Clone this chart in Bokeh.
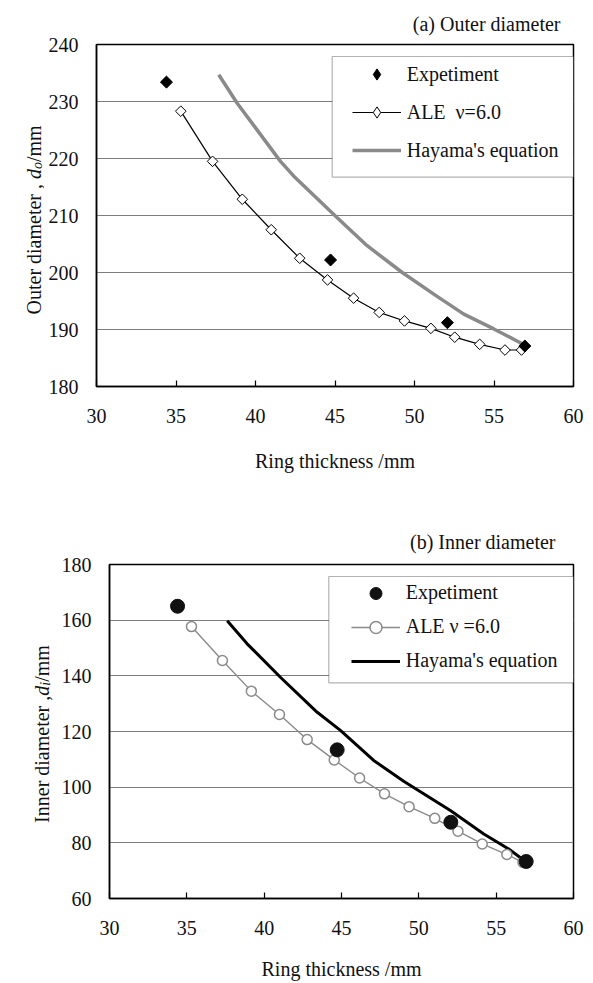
import numpy as np
from bokeh.plotting import figure
from bokeh.layouts import column, row
from bokeh.models import Range1d, Legend, LegendItem, Label, BoxAnnotation, FixedTicker, Title
from bokeh.embed import file_html
from bokeh.resources import INLINE

FONT = "Liberation Serif"

# ---------------- data ----------------
x_ticks = [30, 35, 40, 45, 50, 55, 60]
outer_ticks = [180, 190, 200, 210, 220, 230, 240]
inner_ticks = [60, 80, 100, 120, 140, 160, 180]

exp_thick = [34.4, 44.72, 52.07, 56.94]
exp_outer = [233.4, 202.2, 191.2, 187.1]
exp_inner = [165.0, 113.4, 87.4, 73.3]

ale_thick = [35.3, 37.3, 39.17, 40.99, 42.78, 44.53, 46.17, 47.78, 49.37, 51.03, 52.53, 54.1, 55.69, 56.73]
ale_outer = [228.3, 219.5, 212.85, 207.5, 202.5, 198.7, 195.5, 193.0, 191.5, 190.2, 188.65, 187.4, 186.4, 186.4]
ale_inner = [157.7, 145.5, 134.5, 126.1, 117.1, 109.8, 103.3, 97.6, 93.0, 88.8, 84.2, 79.6, 75.8, 73.0]

hay_thick_o = [37.69, 38.85, 41.57, 42.41, 45.14, 47.02, 49.23, 51.21, 53.1, 54.99, 56.77]
hay_outer = [234.7, 229.7, 219.5, 216.9, 209.6, 204.7, 200.0, 196.2, 192.7, 190.1, 187.5]
hay_thick_i = [37.61, 38.9, 41.05, 43.43, 44.93, 47.08, 49.02, 52.04, 54.2, 55.81, 56.68]
hay_inner = [159.8, 151.5, 139.5, 126.9, 120.4, 109.6, 102.1, 91.6, 83.2, 77.8, 74.2]

GRID = "#7d7d7d"
GRAY = "#8a8a8a"
TXT = "#111111"


def base_fig(w, h, left, top, bottom, yr, yticks, label_standoff, axis_label_standoff,
             title_text, title_offset, title_standoff):
    p = figure(width=w, height=h, x_range=Range1d(30, 60), y_range=Range1d(*yr),
               output_backend="svg", toolbar_location=None,
               min_border_left=left, min_border_right=20, min_border_top=top,
               min_border_bottom=bottom)
    p.title = Title(text=title_text, align="right", offset=title_offset,
                    standoff=title_standoff, text_font=FONT, text_font_size="20px",
                    text_font_style="normal", text_color=TXT)
    p.background_fill_color = "white"
    p.border_fill_color = "white"
    p.outline_line_color = "black"
    p.outline_line_width = 1.5
    p.xgrid.grid_line_color = None
    p.ygrid.grid_line_color = GRID
    p.ygrid.grid_line_width = 1.2
    p.xaxis.ticker = FixedTicker(ticks=x_ticks)
    p.yaxis.ticker = FixedTicker(ticks=yticks)
    for ax in (p.xaxis[0], p.yaxis[0]):
        ax.axis_line_color = "black"
        ax.axis_line_width = 1.5
        ax.major_label_text_font = FONT
        ax.major_label_text_font_size = "20px"
        ax.major_label_text_color = TXT
        ax.minor_tick_line_color = None
    p.xaxis.major_tick_in = 6
    p.xaxis.major_tick_out = 0
    p.xaxis.major_tick_line_color = "black"
    p.xaxis.major_tick_line_width = 1.2
    p.yaxis.major_tick_line_color = None
    p.yaxis.major_tick_in = 0
    p.yaxis.major_tick_out = 0
    p.yaxis.major_label_standoff = 18
    p.xaxis.major_label_standoff = label_standoff
    p.xaxis.axis_label = "Ring thickness /mm"
    p.xaxis.axis_label_text_font = FONT
    p.xaxis.axis_label_text_font_size = "20px"
    p.xaxis.axis_label_text_font_style = "normal"
    p.xaxis.axis_label_text_color = TXT
    p.xaxis.axis_label_standoff = axis_label_standoff
    return p


def label_fig(w, h, top, bottom, pieces, x0, y0):
    # narrow companion figure that carries the rotated y-axis title (mixed styles)
    f = figure(width=w, height=h, x_range=Range1d(0, 1), y_range=Range1d(0, 1),
               x_axis_type=None, y_axis_type=None, output_backend="svg",
               toolbar_location=None, min_border_left=0, min_border_right=0,
               min_border_top=top, min_border_bottom=bottom)
    f.outline_line_color = None
    f.background_fill_color = "white"
    f.border_fill_color = "white"
    y = y0
    for text, style, size, wd, dx in pieces:
        f.add_layout(Label(x=x0 + dx, y=y, x_units="screen", y_units="screen", text=text,
                           angle=np.pi / 2, text_font=FONT, text_font_size=size,
                           text_font_style=style, text_align="left",
                           text_baseline="alphabetic", text_color=TXT))
        y += wd
    return f


# ---------------- (a) outer diameter ----------------
pa = base_fig(549, 490, 52, 43, 104, (180, 240), outer_ticks, 22, 24,
              "(a) Outer diameter", 13, 20)

hay_a = pa.line(hay_thick_o, hay_outer, line_color=GRAY, line_width=3.5)
ale_a_line = pa.line(ale_thick, ale_outer, line_color="black", line_width=1.2)
ale_a_leg = pa.scatter(ale_thick, ale_outer, marker="diamond", size=8,
                       fill_color="white", line_color="black", line_width=1)
pa.scatter(ale_thick, ale_outer, marker="square", angle=np.pi / 4, size=7.5,
           fill_color="white", line_color="black", line_width=1)
exp_a_leg = pa.scatter(exp_thick, exp_outer, marker="diamond", size=8,
                       fill_color="black", line_color="black")
pa.scatter(exp_thick, exp_outer, marker="square", angle=np.pi / 4, size=8.5,
           fill_color="black", line_color="black")

pa.add_layout(BoxAnnotation(left=235.7, right=477, bottom=209.3, top=330,
                            left_units="screen", right_units="screen",
                            bottom_units="screen", top_units="screen",
                            fill_color="white", fill_alpha=1.0,
                            line_color="black", line_width=1.2))
leg_a = Legend(items=[LegendItem(label="Expetiment", renderers=[exp_a_leg]),
                      LegendItem(label="ALE  \u03bd=6.0", renderers=[ale_a_line, ale_a_leg]),
                      LegendItem(label="Hayama's equation", renderers=[hay_a])],
               location=(255.7, 222), padding=0, spacing=10, glyph_width=49,
               glyph_height=28, label_height=28, label_standoff=6, margin=0,
               border_line_color=None, background_fill_alpha=0,
               label_text_font=FONT, label_text_font_size="20px",
               label_text_color=TXT)
pa.add_layout(leg_a)

ya = label_fig(44, 490, 43, 104,
               [("Outer diameter , ", "normal", "20px", 135.5, 0),
                ("d", "italic", "20px", 10.0, 0),
                ("o", "italic", "14px", 7.0, 4),
                (" /mm", "normal", "20px", 41.7, 0)], 33, 72)

# ---------------- (b) inner diameter ----------------
pb = base_fig(540, 493, 56, 74, 85, (60, 180), inner_ticks, 22, 20,
              "(b) Inner diameter", 18, 23)

hay_b = pb.line(hay_thick_i, hay_inner, line_color="black", line_width=3)
ale_b_line = pb.line(ale_thick, ale_inner, line_color=GRAY, line_width=1.4)
ale_b = pb.scatter(ale_thick, ale_inner, marker="circle", size=10,
                   fill_color="white", line_color=GRAY, line_width=1.5)
exp_b = pb.scatter(exp_thick, exp_inner, marker="circle", size=14,
                   fill_color=TXT, line_color=TXT)

pb.add_layout(BoxAnnotation(left=219.3, right=464, bottom=215.7, top=322,
                            left_units="screen", right_units="screen",
                            bottom_units="screen", top_units="screen",
                            fill_color="white", fill_alpha=1.0,
                            line_color="black", line_width=1.2))
leg_b = Legend(items=[LegendItem(label="Expetiment", renderers=[exp_b]),
                      LegendItem(label="ALE \u03bd =6.0", renderers=[ale_b_line, ale_b]),
                      LegendItem(label="Hayama's equation", renderers=[hay_b])],
               location=(241.7, 222.3), padding=0, spacing=4, glyph_width=49,
               glyph_height=30, label_height=30, label_standoff=6, margin=0,
               border_line_color=None, background_fill_alpha=0,
               label_text_font=FONT, label_text_font_size="20px",
               label_text_color=TXT)
pb.add_layout(leg_b)

yb = label_fig(53, 493, 74, 85,
               [("Inner diameter ,", "normal", "20px", 127.2, 0),
                ("d", "italic", "20px", 10.0, 0),
                ("i", "italic", "14px", 3.9, 4),
                (" /mm", "normal", "20px", 41.7, 0)], 41, 75.6)

layout = column(row(ya, pa, spacing=0), row(yb, pb, spacing=0), spacing=0)
open("out.html", "w").write(file_html(layout, INLINE))
